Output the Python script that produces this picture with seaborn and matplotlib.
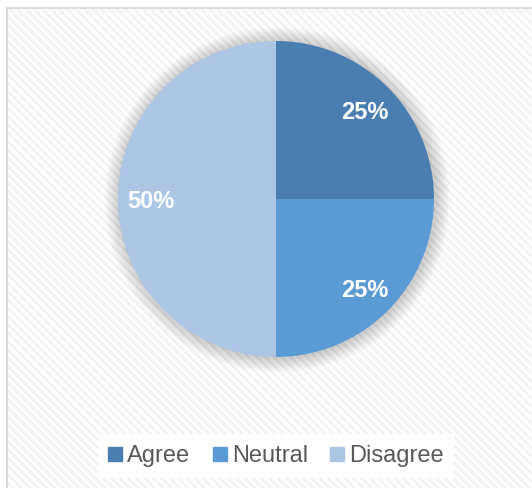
import matplotlib
matplotlib.use("Agg")
import matplotlib.pyplot as plt
from matplotlib.patches import Rectangle, Circle
from matplotlib.lines import Line2D
import seaborn as sns

categories = ["Agree", "Neutral", "Disagree"]
values = [25, 25, 50]
colors_hex = ["#4a7eb0", "#5b9bd5", "#adc6e6"]

sns.set_theme(style="white")
plt.rcParams['font.family'] = ['Liberation Sans', 'DejaVu Sans']
plt.rcParams['hatch.linewidth'] = 1.6
palette = sns.color_palette(colors_hex)

W, H = 532, 488
fig = plt.figure(figsize=(W / 100, H / 100), dpi=100)
fig.patch.set_facecolor("white")

# hatched background
bg = Rectangle((7 / W, 0), 1, 1 - 8 / H, transform=fig.transFigure,
               facecolor="white", edgecolor="#f1f1f1", hatch="\\\\\\\\", lw=0, zorder=-5)
fig.patches.append(bg)
border = Rectangle((7 / W, -0.1), 1.2, 1.1 - 8 / H, transform=fig.transFigure,
                   facecolor="none", edgecolor="#d9d9d9", lw=1.5, zorder=-4)
fig.patches.append(border)

cx, cy, r = 276, 199, 158
lim = 1.2
half = lim * r
ax = fig.add_axes([(cx - half) / W, (H - cy - half) / H, 2 * half / W, 2 * half / H])
ax.set_zorder(2)
ax.set_xlim(-lim, lim)
ax.set_ylim(-lim, lim)
ax.set_aspect("equal")
ax.axis("off")
ax.patch.set_alpha(0)

# soft shadow
for i in range(16):
    rr = 1.0 + 0.006 * (i + 1)
    ax.add_patch(Circle((0.01, -0.005), rr, facecolor="black", edgecolor="none", alpha=0.013, zorder=1))

wedges, texts, autotexts = ax.pie(
    values, colors=palette, startangle=90, counterclock=False,
    autopct="%1.0f%%", pctdistance=0.795, radius=1.0,
    textprops=dict(color="white", fontsize=17, fontweight="bold"),
    wedgeprops=dict(linewidth=0))
for w in wedges:
    w.set_zorder(2)
for t in autotexts:
    t.set_zorder(3)
    t.set_verticalalignment("center_baseline")
ax.set_xlim(-lim, lim)
ax.set_ylim(-lim, lim)

handles = [Line2D([0], [0], marker="s", linestyle="none", markersize=9.4,
                  markerfacecolor=c, markeredgecolor=c) for c in palette]
leg = fig.legend(handles, categories, loc="center",
                 bbox_to_anchor=(276 / W, 1 - 456 / H), ncol=3,
                 frameon=True, facecolor="white", edgecolor="none", framealpha=1,
                 fontsize=17, handlelength=0.6, handletextpad=0.2,
                 columnspacing=0.95, borderpad=0.45, labelcolor="#595959")
leg.get_frame().set_boxstyle("square", pad=0)
leg.set_zorder(5)

fig.savefig("out.png", dpi=100)
